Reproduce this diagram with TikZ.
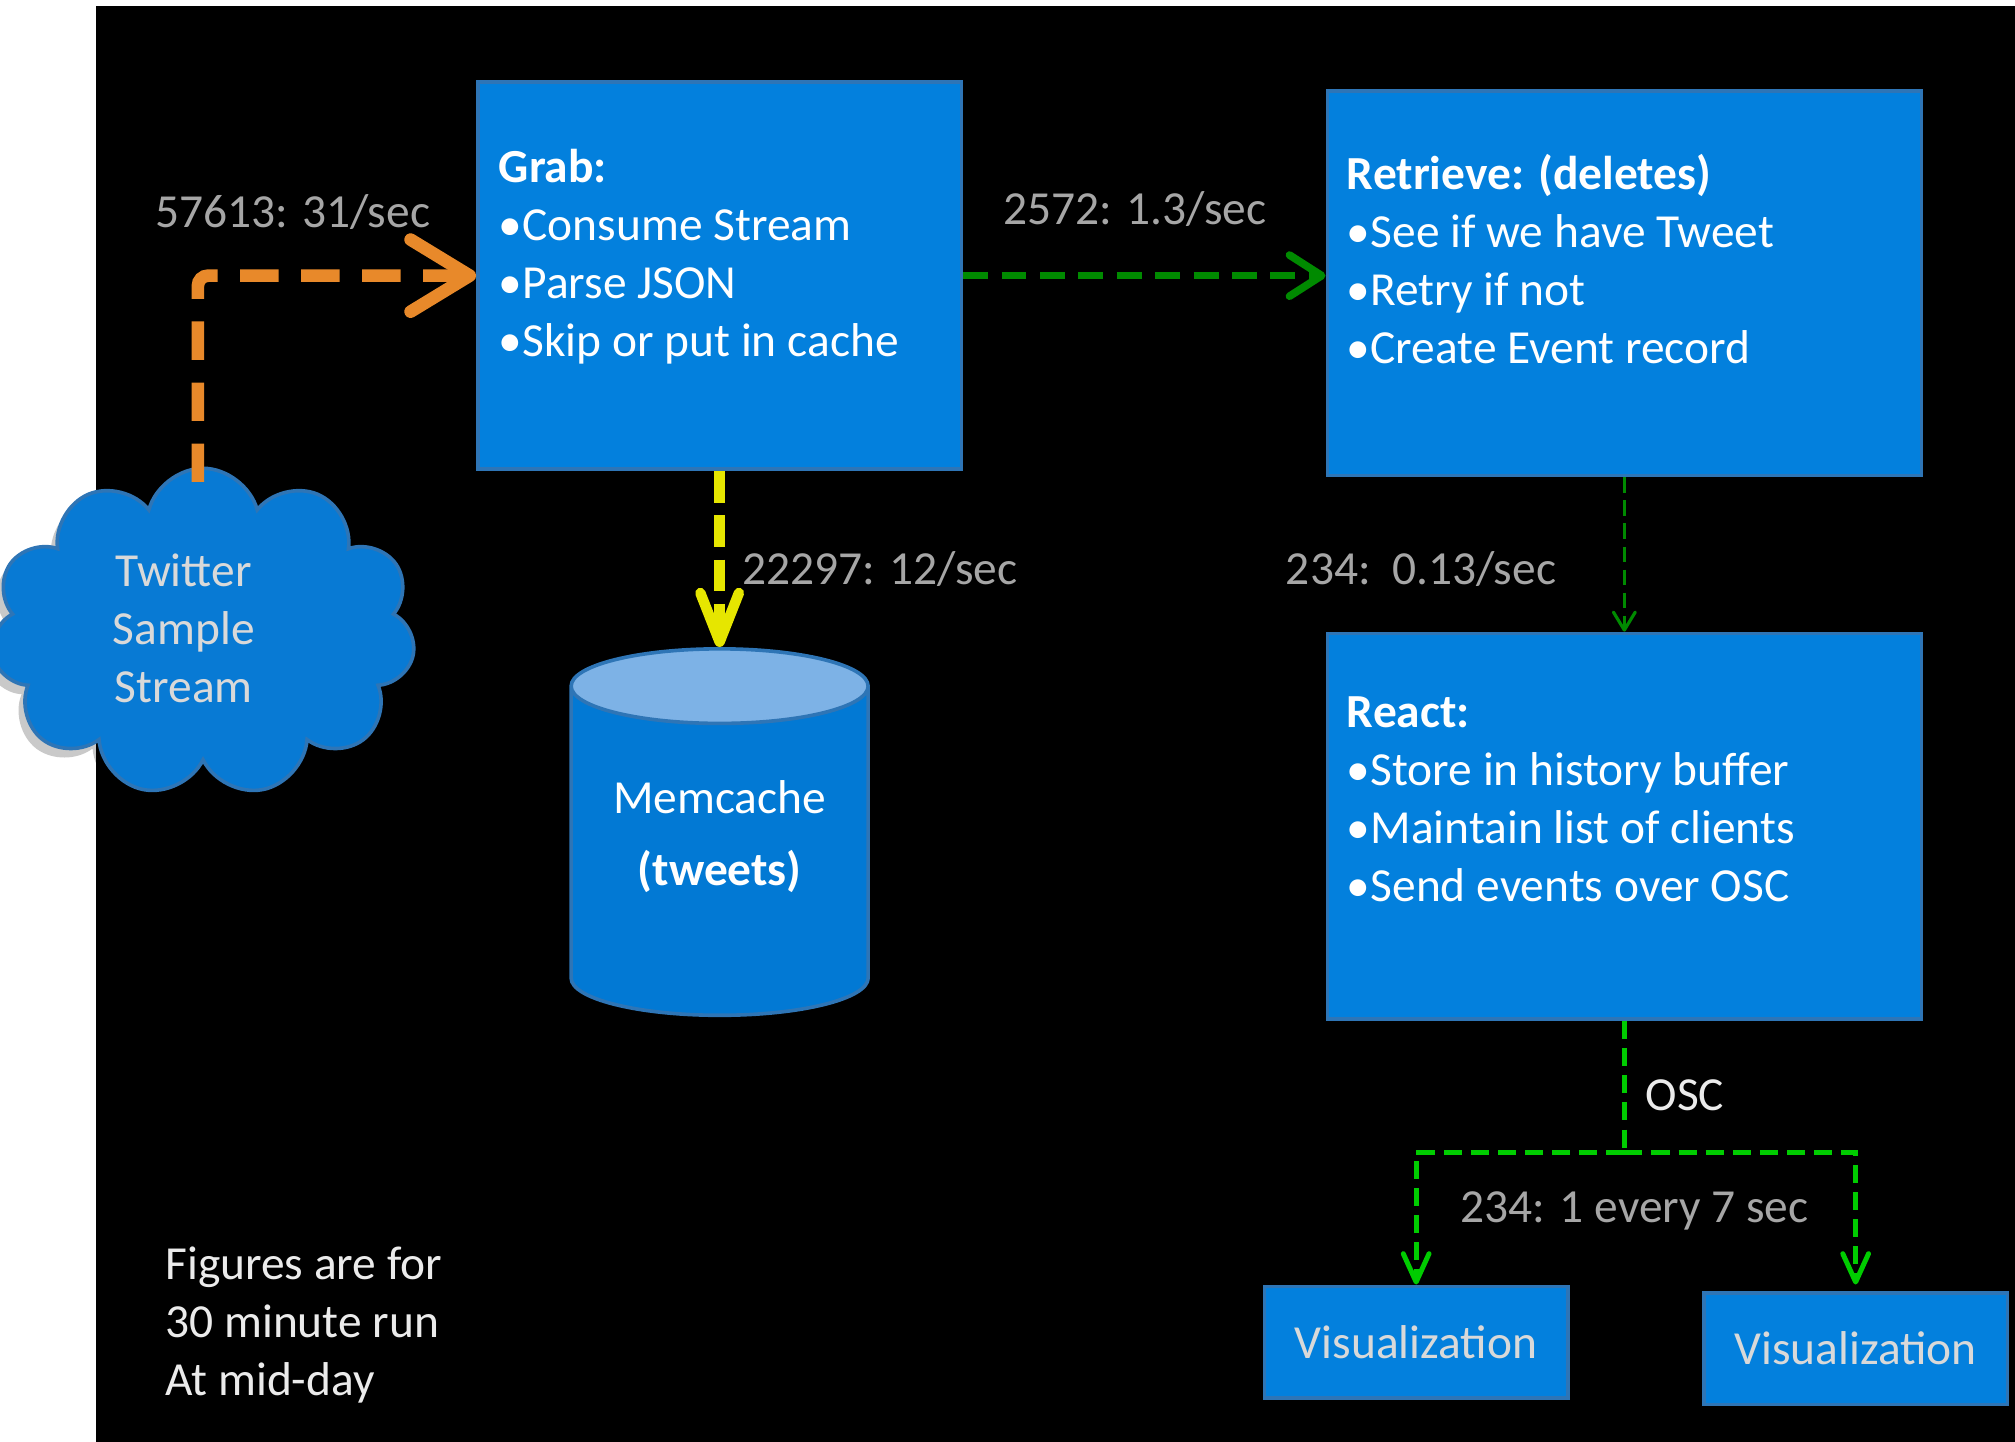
\documentclass[tikz,border=0pt]{standalone}
\usepackage{fontspec}
\setmainfont{Carlito}
\usetikzlibrary{positioning,arrows.meta,shapes.geometric,shapes.symbols,shadows}
\definecolor{boxblue}{RGB}{3,128,221}
\definecolor{boxline}{RGB}{46,117,182}
\definecolor{cylblue}{RGB}{2,121,212}
\definecolor{cyltop}{RGB}{125,178,230}
\definecolor{cloudblue}{RGB}{8,122,212}
\definecolor{arrorange}{RGB}{232,137,42}
\definecolor{arrgreen}{RGB}{0,138,0}
\definecolor{oscgreen}{RGB}{0,204,0}
\definecolor{arryellow}{RGB}{230,230,0}
\definecolor{labelgray}{RGB}{166,166,166}
\definecolor{softwhite}{RGB}{217,217,217}

\begin{document}
\begin{tikzpicture}[x=0.01cm, y=-0.01cm,
  every node/.style = {font=\fontsize{10.5}{12.8}\selectfont, inner sep=0pt},
  stepbox/.style = {rectangle, draw=boxline, line width=0.8pt, fill=boxblue},
  boxtext/.style = {anchor=north west, align=left, text=white},
  ratelabel/.style = {text=labelgray},
  notetext/.style = {text=white!92!black},
  orangeflow/.style = {draw=arrorange, line width=2.8pt, dash pattern=on 8.5pt off 5pt,
    rounded corners=0.08cm, -{Straight Barb[length=0.46cm, width=0.56cm, round]}},
  retrflow/.style = {draw=arrgreen, line width=1.7pt, dash pattern=on 5.5pt off 3pt,
    -{Straight Barb[length=0.25cm, width=0.32cm, round]}},
  cacheflow/.style = {draw=arryellow, line width=2.3pt, dash pattern=on 7pt off 2.8pt,
    -{Straight Barb[length=0.38cm, width=0.3cm, round]}},
  reactflow/.style = {draw=arrgreen, line width=0.7pt, dash pattern=on 3.4pt off 1.7pt,
    -{Straight Barb[length=0.14cm, width=0.17cm, round]}},
  oscflow/.style = {draw=oscgreen, line width=1.1pt, dash pattern=on 4pt off 2pt}]

  % page and slide background
  \clip (0,0) rectangle (1568,1122);
  \fill[white] (0,0) rectangle (1568,1122);
  \fill[black] (75,5) rectangle (1568,1122);

  % boxes
  \node[stepbox, minimum width=3.76cm, minimum height=3.01cm] (grab) at (560,214.5) {};
  \node[stepbox, minimum width=4.62cm, minimum height=2.99cm] (retrieve) at (1264,220.5) {};
  \node[stepbox, minimum width=4.62cm, minimum height=3.00cm, below=1.2cm of retrieve] (react) {};
  \node[stepbox, minimum width=2.36cm, minimum height=0.87cm, text=softwhite] (vizleft) at (1102,1044.5) {Visualization};
  \node[stepbox, minimum width=2.36cm, minimum height=0.87cm, text=softwhite] (vizright) at (1444,1049.5) {Visualization};

  \node[boxtext] (grabtxt) at ([xshift=0.17cm, yshift=-0.53cm]grab.north west)
    {\textbf{Grab:}\\•Consume Stream\\•Parse JSON\\•Skip or put in cache};
  \node[boxtext] (retrievetxt) at ([xshift=0.16cm, yshift=-0.5cm]retrieve.north west)
    {\textbf{Retrieve: (deletes)}\\•See if we have Tweet\\•Retry if not\\•Create Event record};
  \node[boxtext] (reacttxt) at ([xshift=0.16cm, yshift=-0.5cm]react.north west)
    {\textbf{React:}\\•Store in history buffer\\•Maintain list of clients\\•Send events over OSC};

  % source and cache
  \node[cloud, cloud puffs=11, aspect=1.3, draw=boxline, line width=0.8pt, fill=cloudblue,
    minimum width=3.3cm, minimum height=2.55cm,
    drop shadow={shadow xshift=-0.05cm, shadow yshift=-0.07cm, fill=black!35, opacity=0.6, blend mode=multiply}]
    (twitter) at (158,492) {};
  \node[align=center, text=softwhite] (twittertxt) at (143,489) {Twitter\\Sample\\Stream};
  \node[cylinder, shape border rotate=90, aspect=0.35, draw=boxline, line width=0.8pt,
    cylinder uses custom fill, cylinder body fill=cylblue, cylinder end fill=cyltop,
    minimum width=2.31cm, minimum height=2.85cm, anchor=shape center]
    (memcache) at (560,647.5) {\phantom{Memcache}};
  \node[align=center, text=white] (memcachetxt) at (560,651) {Memcache\\[3pt]\textbf{(tweets)}};

  % flows
  \draw[orangeflow] ([xshift=-0.04cm, yshift=-0.12cm]twitter.north) |- (grab.west);
  \draw[retrflow] (grab.east) -- (grab.east -| retrieve.west);
  \draw[cacheflow] (grab.south) -- (memcache.top);
  \draw[reactflow] (retrieve.south) -- (react.north);
  \coordinate (oscsplit) at ([yshift=-1.02cm]react.south);
  \draw[oscflow] (react.south) -- (oscsplit);
  \draw[oscflow, -{Straight Barb[length=0.22cm, width=0.2cm, round]}] (oscsplit) -| (vizleft.north);
  \draw[oscflow, -{Straight Barb[length=0.22cm, width=0.2cm, round]}] (oscsplit) -| ([yshift=0.05cm]vizright.north);

  % rates
  \node[ratelabel, anchor=west] (grabrate) at (120,165) {57613: 31/sec};
  \node[ratelabel, anchor=west] (retrrate) at (780,163) {2572: 1.3/sec};
  \node[ratelabel, anchor=west] (cacherate) at (577,443) {22297: 12/sec};
  \node[ratelabel, anchor=west] (reactrate) at (1000,443) {234:\ \ 0.13/sec};
  \node[ratelabel] (vizrate) at (1272,942) {234: 1 every 7 sec};
  \node[notetext, anchor=west] (osclabel) at (1280,852) {OSC};
  \node[notetext, anchor=west, align=left] (note) at (128,1031) {Figures are for\\30 minute run\\At mid-day};
\end{tikzpicture}
\end{document}
